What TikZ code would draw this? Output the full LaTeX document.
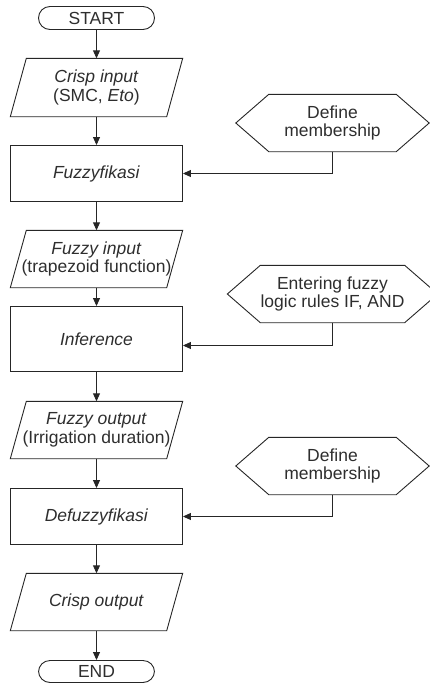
\documentclass[tikz,border=0pt]{standalone}
\usepackage{fontspec}
\setmainfont{Liberation Sans}
\usetikzlibrary{arrows.meta,calc}
\definecolor{linecol}{HTML}{262626}
\definecolor{txtcol}{HTML}{2E2E2E}
\newcommand\drawpara[1]{\draw[ln] ($(#1.north west)+(8,0)$) -- ($(#1.north east)+(8,0)$) -- ($(#1.south east)+(-8,0)$) -- ($(#1.south west)+(-8,0)$) -- cycle;}
\newcommand\drawhex[1]{\draw[ln] (#1.north west) -- (#1.north east) -- ($(#1.east)+(33,0)$) -- (#1.south east) -- (#1.south west) -- ($(#1.west)+(-33,0)$) -- cycle;}
\begin{document}
\begin{tikzpicture}[x=1pt,y=-1pt,
  ln/.style={draw=linecol, line width=0.9pt},
  arr/.style={ln, -{Triangle[length=8pt,width=7pt]}},
  base/.style={inner sep=0pt, align=center, text=txtcol, font=\fontsize{17.5}{18.5}\selectfont},
  term/.style={base, ln, rounded corners=11.5pt, minimum width=116pt, minimum height=23pt},
  procbox/.style={base, ln, minimum width=172pt},
  iobox/.style={base, minimum width=156pt, minimum height=57pt},
  hexbox/.style={base, minimum width=127pt, minimum height=57pt}]
\useasboundingbox (0,0) rectangle (429,686);
\node[term] (start) at (96.5,18) {START};
\node[iobox, minimum height=58pt] (in1) at (96.5,87.5) {\textit{Crisp input}\\(SMC, \textit{Eto})};
\node[procbox, minimum height=56pt] (fz) at (96.5,173.5) {\textit{Fuzzyfikasi}};
\node[hexbox] (hex1) at (332.5,123) {Define\\membership};
\node[iobox] (fin) at (96.5,259) {\textit{Fuzzy input}\\(trapezoid function)};
\node[procbox, minimum height=65pt] (inf) at (96.5,339) {\textit{Inference}};
\node[hexbox] (hex2) at (332.5,294) {Entering fuzzy\\logic rules IF, AND};
\node[iobox] (fout) at (96.5,430) {\textit{Fuzzy output}\\(Irrigation duration)};
\node[procbox, minimum height=56pt] (def) at (96.5,516.5) {\textit{Defuzzyfikasi}};
\node[hexbox] (hex3) at (332.5,466) {Define\\membership};
\node[iobox] (cout) at (96.5,602) {\textit{Crisp output}};
\node[term, minimum height=22pt] (end) at (96.5,671.5) {END};
\drawpara{in1}
\drawpara{fin}
\drawpara{fout}
\drawpara{cout}
\drawhex{hex1}
\drawhex{hex2}
\drawhex{hex3}
\draw[arr] (start) -- (in1);
\draw[arr] (in1) -- (fz);
\draw[arr] (fz) -- (fin);
\draw[arr] (fin) -- (inf);
\draw[arr] (inf) -- (fout);
\draw[arr] (fout) -- (def);
\draw[arr] (def) -- (cout);
\draw[arr] (cout) -- (end);
\draw[arr] (hex1.south) |- (fz.east);
\draw[arr] (hex2.south) |- ($(inf.east)+(0,6.5)$);
\draw[arr] (hex3.south) |- (def.east);
\end{tikzpicture}
\end{document}
